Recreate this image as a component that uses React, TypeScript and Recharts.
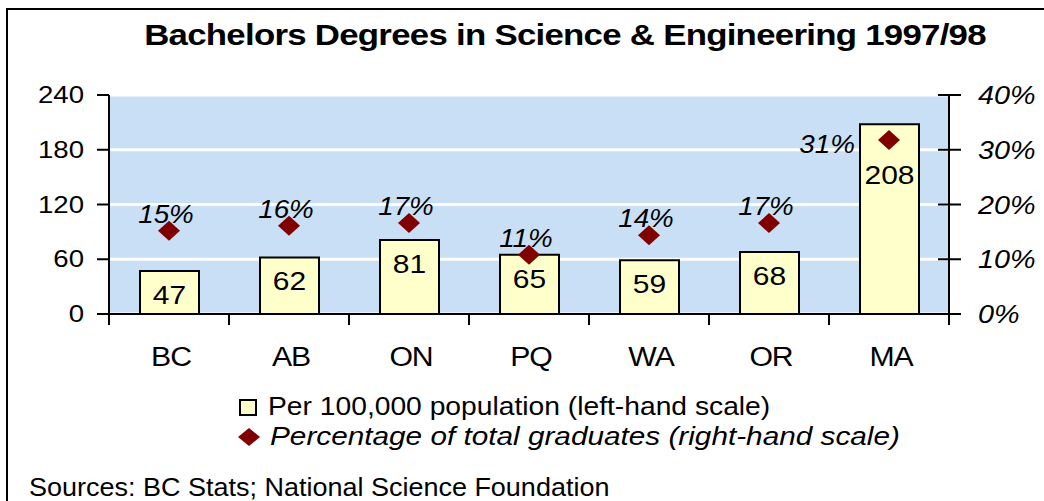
import React from 'react';
import { ComposedChart, Bar, Line, XAxis, YAxis, CartesianGrid, LabelList } from 'recharts';

// categories and values
const categories = ['BC', 'AB', 'ON', 'PQ', 'WA', 'OR', 'MA'];
const perCapita = [47, 62, 81, 65, 59, 68, 208];
const pctGraduates = [15.2, 16.1, 16.6, 10.8, 14.4, 16.6, 31.8];
const pctLabels = ['15%', '16%', '17%', '11%', '14%', '17%', '31%'];
const leftTicks = [0, 60, 120, 180, 240];
const rightTicks = [0, 10, 20, 30, 40];

const data = categories.map((state, i) => ({
  state,
  perCapita: perCapita[i],
  pct: pctGraduates[i],
}));

const FONT = '"Liberation Sans", Arial, sans-serif';
const MAROON = '#800000';
const BAR_FILL = '#FFFFCC';
const PLOT_BG = '#C9DFF5';

const X_TICK_SIZE = 11;
const X_TICK_MARGIN = 22;
const R_TICK_SIZE = 12;
const R_TICK_MARGIN = 15;

// text slightly stretched sideways, like the original export
function SText({ x, y, size, sx = 1.15, anchor = 'start', italic = false, bold = false, spacing = 0, children }: any) {
  return (
    <text
      transform={`translate(${x},${y}) scale(${sx},1)`}
      x={0}
      y={0}
      textAnchor={anchor}
      fontFamily={FONT}
      fontSize={size}
      fontStyle={italic ? 'italic' : 'normal'}
      fontWeight={bold ? 'bold' : 'normal'}
      letterSpacing={spacing}
      fill="#000"
    >
      {children}
    </text>
  );
}

const Diamond = ({ cx, cy, w = 11, h = 10 }: any) => (
  <path d={`M${cx},${cy - h} L${cx + w},${cy} L${cx},${cy + h} L${cx - w},${cy} Z`} fill={MAROON} />
);

const LeftTick = (props: any) => {
  const { x, y, payload } = props;
  return <SText x={x} y={y + 8} size={24} sx={1.15} anchor="end">{payload.value}</SText>;
};

const RightTick = (props: any) => {
  const { x, y, payload } = props;
  const axisX = x - R_TICK_SIZE - R_TICK_MARGIN;
  return (
    <g>
      <line x1={axisX - 11} x2={axisX + R_TICK_SIZE} y1={y} y2={y} stroke="#000" strokeWidth={2} />
      <SText x={x + 2} y={y + 9} size={25} sx={1.15} italic>{`${payload.value}%`}</SText>
    </g>
  );
};

const CategoryTick = (props: any) => {
  const { x, y, payload, index } = props;
  const half = payload.offset || 60;
  const axisY = y - X_TICK_SIZE - X_TICK_MARGIN;
  const last = index === categories.length - 1;
  return (
    <g>
      <line x1={x - half} x2={x - half} y1={axisY} y2={axisY + X_TICK_SIZE} stroke="#000" strokeWidth={2} />
      {last && <line x1={x + half} x2={x + half} y1={axisY} y2={axisY + X_TICK_SIZE} stroke="#000" strokeWidth={2} />}
      <SText x={x + 2} y={y + 19} size={27} sx={1.12} spacing={-1} anchor="middle">{payload.value}</SText>
    </g>
  );
};

const BarValueLabel = (props: any) => {
  const { x, y, width, value, index } = props;
  // the MA label sits lower so the diamond stays clear
  const drop = index === perCapita.length - 1 ? 60 : 33;
  return <SText x={x + width / 2} y={y + drop} size={25} sx={1.2} anchor="middle">{value}</SText>;
};

const PctLabel = (props: any) => {
  const { x, y, index } = props;
  if (index === pctLabels.length - 1) {
    return <SText x={x - 34} y={y + 13} size={26} sx={1.07} anchor="end" italic>{pctLabels[index]}</SText>;
  }
  return <SText x={x - 3} y={y - 8} size={26} sx={1.07} anchor="middle" italic>{pctLabels[index]}</SText>;
};

export default function App() {
  return (
    <div style={{ position: 'absolute', left: 0, top: 0, width: 1044, height: 501, overflow: 'hidden', background: '#fff' }}>
      <div style={{ position: 'absolute', left: 6, top: 8, width: 1100, height: 600, border: '2px solid #000', boxSizing: 'border-box' }} />
      <div style={{ position: 'absolute', left: 0, top: 0 }}>
        <ComposedChart
          width={1044}
          height={501}
          data={data}
          margin={{ top: 95, right: 0, left: 0, bottom: 147 }}
          barSize={59}
        >
          <CartesianGrid yAxisId="left" vertical={false} stroke="#fff" strokeWidth={3} fill={PLOT_BG} />
          <XAxis
            dataKey="state"
            height={40}
            tickLine={false}
            tickSize={X_TICK_SIZE}
            tickMargin={X_TICK_MARGIN}
            axisLine={{ stroke: '#000', strokeWidth: 2 }}
            tick={<CategoryTick />}
            interval={0}
          />
          <YAxis
            yAxisId="left"
            width={109}
            domain={[0, 240]}
            ticks={leftTicks}
            interval={0}
            tickSize={12}
            tickMargin={13}
            axisLine={{ stroke: '#000', strokeWidth: 2 }}
            tickLine={{ stroke: '#000', strokeWidth: 2 }}
            tick={<LeftTick />}
          />
          <YAxis
            yAxisId="right"
            orientation="right"
            width={95}
            domain={[0, 40]}
            ticks={rightTicks}
            interval={0}
            tickSize={R_TICK_SIZE}
            tickMargin={R_TICK_MARGIN}
            axisLine={{ stroke: '#000', strokeWidth: 2 }}
            tickLine={false}
            tick={<RightTick />}
          />
          <Bar yAxisId="left" dataKey="perCapita" fill={BAR_FILL} stroke="#000" strokeWidth={2} isAnimationActive={false}>
            <LabelList dataKey="perCapita" content={<BarValueLabel />} />
          </Bar>
          <Line
            yAxisId="right"
            dataKey="pct"
            stroke="none"
            strokeWidth={0}
            isAnimationActive={false}
            dot={(p: any) => <Diamond key={`d-${p.index}`} cx={p.cx} cy={p.cy} />}
            activeDot={false}
          >
            <LabelList dataKey="pct" content={<PctLabel />} />
          </Line>
        </ComposedChart>
      </div>
      <svg width={1044} height={501} style={{ position: 'absolute', left: 0, top: 0, pointerEvents: 'none' }}>
        <SText x={565} y={45} size={29} sx={1.2} spacing={-0.6} anchor="middle" bold>
          Bachelors Degrees in Science &amp; Engineering 1997/98
        </SText>
        <rect x={240} y={400} width={16} height={15} fill={BAR_FILL} stroke="#000" strokeWidth={2} />
        <SText x={268} y={415} size={25} sx={1.13}>Per 100,000 population (left-hand scale)</SText>
        <Diamond cx={249} cy={437} w={11} h={9} />
        <SText x={270} y={445} size={25} sx={1.19}>
          <tspan fontStyle="italic">Percentage of total graduates (right-hand scale)</tspan>
        </SText>
        <SText x={29} y={496} size={25} sx={1.08}>Sources: BC Stats; National Science Foundation</SText>
      </svg>
    </div>
  );
}
